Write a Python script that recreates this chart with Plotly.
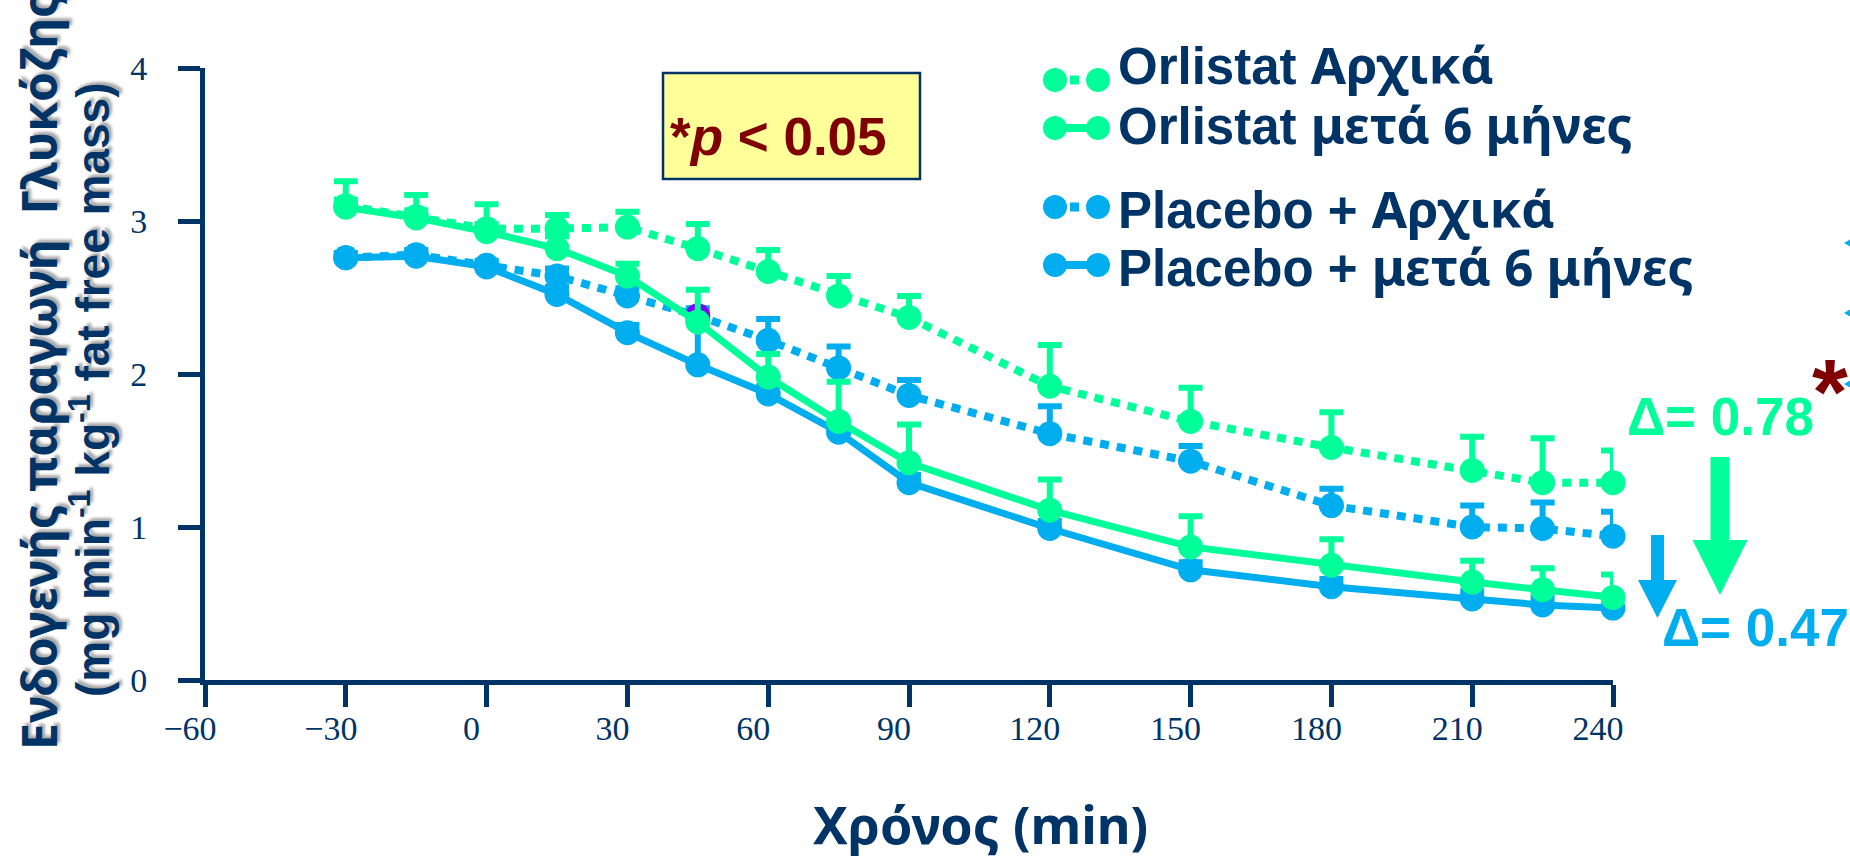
import plotly.graph_objects as go

# ---------------- data ----------------
times = [-30, -15, 0, 15, 30, 45, 60, 75, 90, 120, 150, 180, 210, 225, 240]

orlistat_baseline = [3.10, 3.03, 2.95, 2.95, 2.96, 2.82, 2.67, 2.51, 2.37, 1.92, 1.69, 1.52, 1.37, 1.29, 1.29]
orlistat_baseline_err = [0.16, 0.14, 0.16, 0.09, 0.10, 0.16, 0.14, 0.13, 0.14, 0.27, 0.22, 0.23, 0.22, 0.29, 0.21]

orlistat_6m = [3.09, 3.02, 2.93, 2.82, 2.64, 2.34, 1.98, 1.69, 1.42, 1.11, 0.87, 0.75, 0.64, 0.59, 0.54]
orlistat_6m_err = [0.05, 0.05, 0.05, 0.08, 0.08, 0.21, 0.15, 0.26, 0.25, 0.20, 0.20, 0.17, 0.14, 0.14, 0.15]

placebo_baseline = [2.76, 2.78, 2.71, 2.64, 2.51, 2.38, 2.22, 2.04, 1.86, 1.61, 1.43, 1.14, 1.00, 0.99, 0.94]
placebo_baseline_err = [0.03, 0.03, 0.03, 0.05, 0.05, 0.05, 0.14, 0.14, 0.10, 0.18, 0.10, 0.11, 0.14, 0.17, 0.16]

placebo_6m = [2.76, 2.77, 2.70, 2.52, 2.27, 2.06, 1.87, 1.62, 1.29, 0.99, 0.72, 0.61, 0.53, 0.49, 0.47]
placebo_6m_err = [0.03, 0.03, 0.03, 0.05, 0.05, 0.30, 0.05, 0.05, 0.05, 0.05, 0.05, 0.05, 0.05, 0.05, 0.05]

series_names = ["Orlistat Αρχικά", "Orlistat μετά 6 μήνες", "Placebo + Αρχικά", "Placebo + μετά 6 μήνες"]
x_ticks = [-60, -30, 0, 30, 60, 90, 120, 150, 180, 210, 240]
y_ticks = [0, 1, 2, 3, 4]
x_title = "Χρόνος (min)"
y_title_1 = "Ενδογενής παραγωγή  Γλυκόζης"
y_title_2 = "(mg min<sup>-1</sup> kg<sup>-1</sup> fat free mass)"
delta_orlistat = "Δ= 0.78"
delta_placebo = "Δ= 0.47"

# ---------------- style ----------------
W, H = 1850, 856
ML, MR, MT, MB = 205, 237, 68, 176
PW, PH = W - ML - MR, H - MT - MB

NAVY = "#003366"
GREEN = "#00FF99"
BLUE = "#00ADEF"
PURPLE = "#8000FF"
DARKRED = "#800000"
YELLOW = "#FFFF99"
LATIN = "Liberation Sans"
GREEK = "Noto Sans"
SHADOW = "3px 3px 3px rgba(0,0,0,0.35)"


def px_x(px):
    return (px - ML) / PW


def px_y(py):
    return 1 - (py - MT) / PH


def make_trace(name, y, err, color, dotted, marker_color=None):
    return go.Scatter(
        x=times, y=y, name=name, mode="lines+markers",
        line=dict(color=color, width=8 if dotted else 7,
                  dash="9px,8px" if dotted else "solid"),
        marker=dict(size=25, color=marker_color if marker_color else color, line=dict(width=0)),
        error_y=dict(type="data", array=err, arrayminus=[0] * len(err), symmetric=False,
                     color=color, thickness=6, width=12),
        cliponaxis=False, showlegend=False,
    )


placebo_base_colors = [PURPLE if t == 45 else BLUE for t in times]

fig = go.Figure()
fig.add_trace(make_trace(series_names[3], placebo_6m, placebo_6m_err, BLUE, False))
fig.add_trace(make_trace(series_names[2], placebo_baseline, placebo_baseline_err, BLUE, True, placebo_base_colors))
fig.add_trace(make_trace(series_names[0], orlistat_baseline, orlistat_baseline_err, GREEN, True))
fig.add_trace(make_trace(series_names[1], orlistat_6m, orlistat_6m_err, GREEN, False))

shapes = []
annotations = []

# ---- custom legend ----
legend_rows = [
    (80, 64, True, GREEN, "Orlistat ", "Αρχικά"),
    (128, 124, False, GREEN, "Orlistat ", "μετά 6 μήνες"),
    (207, 208, True, BLUE, "Placebo + ", "Αρχικά"),
    (265, 266, False, BLUE, "Placebo + ", "μετά 6 μήνες"),
]
for sy, ty, dotted, col, latin, greek in legend_rows:
    if dotted:
        shapes.append(dict(type="rect", xref="paper", yref="paper",
                           x0=px_x(1070), x1=px_x(1079), y0=px_y(sy + 4.5), y1=px_y(sy - 4.5),
                           fillcolor=col, line=dict(width=0)))
    else:
        shapes.append(dict(type="line", xref="paper", yref="paper",
                           x0=px_x(1055), x1=px_x(1098), y0=px_y(sy), y1=px_y(sy),
                           line=dict(color=col, width=8)))
    for cx in (1055, 1098):
        shapes.append(dict(type="circle", xref="paper", yref="paper",
                           x0=px_x(cx - 12), x1=px_x(cx + 12), y0=px_y(sy + 12), y1=px_y(sy - 12),
                           fillcolor=col, line=dict(width=0)))
    annotations.append(dict(
        xref="paper", yref="paper", x=px_x(1116), y=px_y(ty), xanchor="left", yanchor="middle",
        text=f'{latin}<span style="font-family:{GREEK}">{greek}</span>',
        showarrow=False, font=dict(family=LATIN, size=51, color=NAVY, weight="bold")))

# ---- p-value box ----
shapes.append(dict(type="rect", xref="paper", yref="paper",
                   x0=px_x(663), x1=px_x(920), y0=px_y(179), y1=px_y(73),
                   fillcolor=YELLOW, line=dict(color=NAVY, width=2.5), layer="below"))
annotations.append(dict(
    xref="paper", yref="paper", x=px_x(668), y=px_y(136), xanchor="left", yanchor="middle",
    text="*<i>p</i> &lt; 0.05", showarrow=False,
    font=dict(family=LATIN, size=53, color=DARKRED, weight="bold")))


# ---- delta arrows ----
def arrow_path(cx, top, head_y, tip, shaft_w, head_w):
    pts = [(cx - shaft_w / 2, top), (cx + shaft_w / 2, top), (cx + shaft_w / 2, head_y),
           (cx + head_w / 2, head_y), (cx, tip), (cx - head_w / 2, head_y), (cx - shaft_w / 2, head_y)]
    return "M " + " L ".join(f"{px_x(a):.5f},{px_y(b):.5f}" for a, b in pts) + " Z"


shapes.append(dict(type="path", xref="paper", yref="paper",
                   path=arrow_path(1720, 457, 540, 595, 19, 55), fillcolor=GREEN, line=dict(width=0)))
shapes.append(dict(type="path", xref="paper", yref="paper",
                   path=arrow_path(1657.5, 535, 580, 618, 13, 39), fillcolor=BLUE, line=dict(width=0)))

annotations.append(dict(xref="paper", yref="paper", x=px_x(1720), y=px_y(416), xanchor="center",
                        yanchor="middle", text=delta_orlistat, showarrow=False,
                        font=dict(family=LATIN, size=53, color=GREEN, weight="bold")))
annotations.append(dict(xref="paper", yref="paper", x=px_x(1660), y=px_y(627), xanchor="left",
                        yanchor="middle", text=delta_placebo, showarrow=False,
                        font=dict(family=LATIN, size=53, color=BLUE, weight="bold")))
annotations.append(dict(xref="paper", yref="paper", x=px_x(1830), y=px_y(392), xanchor="center",
                        yanchor="middle", text="*", showarrow=False,
                        font=dict(family=LATIN, size=92, color=DARKRED, weight="bold")))

# small cyan fragments at the right edge
for fy in (243, 313, 384):
    shapes.append(dict(type="path", xref="paper", yref="paper",
                       path=f"M {px_x(1844):.5f},{px_y(fy):.5f} L {px_x(1854):.5f},{px_y(fy - 6):.5f} "
                            f"L {px_x(1854):.5f},{px_y(fy + 6):.5f} Z",
                       fillcolor=BLUE, line=dict(width=0)))

# ---- axis titles ----
annotations.append(dict(xref="paper", yref="paper", x=px_x(980), y=px_y(823), xanchor="center",
                        yanchor="middle", text=x_title, showarrow=False,
                        font=dict(family=GREEK, size=52, color=NAVY, weight="bold")))
annotations.append(dict(xref="paper", yref="paper", x=px_x(38), y=px_y(372), xanchor="center",
                        yanchor="middle", textangle=-90, text=y_title_1, showarrow=False,
                        font=dict(family=GREEK, size=48, color=NAVY, weight="bold", shadow=SHADOW)))
annotations.append(dict(xref="paper", yref="paper", x=px_x(90), y=px_y(390), xanchor="center",
                        yanchor="middle", textangle=-90, text=y_title_2, showarrow=False,
                        font=dict(family=LATIN, size=46, color=NAVY, weight="bold", shadow=SHADOW)))

fig.update_layout(
    width=W, height=H,
    margin=dict(l=ML, r=MR, t=MT, b=MB, pad=0),
    paper_bgcolor="white", plot_bgcolor="white",
    shapes=shapes, annotations=annotations,
    showlegend=False,
)

fig.update_xaxes(
    range=[-60, 240], tickvals=x_ticks, showgrid=False, zeroline=False,
    showline=True, linecolor=NAVY, linewidth=5,
    ticks="outside", ticklen=22, tickwidth=5, tickcolor=NAVY,
    tickfont=dict(family="Liberation Serif", size=34, color=NAVY),
    ticklabelshift=-15, ticklabelstandoff=-8,
)
fig.update_yaxes(
    range=[0, 4], tickvals=y_ticks, showgrid=False, zeroline=False,
    showline=True, linecolor=NAVY, linewidth=5,
    ticks="outside", ticklen=22, tickwidth=5, tickcolor=NAVY,
    tickfont=dict(family="Liberation Serif", size=34, color=NAVY),
    ticklabelstandoff=24,
)

fig.write_html("out.html", config={"displayModeBar": False})
